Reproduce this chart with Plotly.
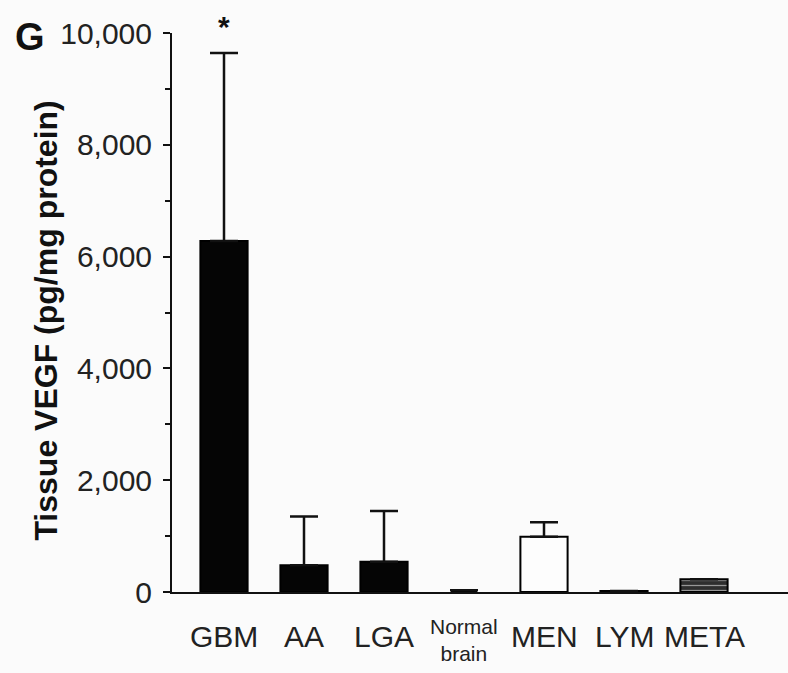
import plotly.graph_objects as go

# Tissue VEGF concentration by tumour type (mean + SD)
categories = ["GBM", "AA", "LGA", "Normal brain", "MEN", "LYM", "META"]
tick_labels = ["GBM", "AA", "LGA", "Normal<br>brain", "MEN", "LYM", "META"]
vegf_mean = [6280, 480, 540, 30, 990, 20, 230]
vegf_sd = [3360, 870, 910, 0, 260, 0, 0]
show_err = [True, True, True, False, True, False, False]
y_ticks = [0, 2000, 4000, 6000, 8000, 10000]

FONT = "Liberation Sans, Arial, sans-serif"
fills = ["#050505", "#050505", "#050505", "#050505", "#fdfdfd", "#050505", "#2e2e2e"]
widths = [0.59, 0.59, 0.59, 0.3, 0.59, 0.59, 0.59]

err_vals = [s if e else None for s, e in zip(vegf_sd, show_err)]

fig = go.Figure()
fig.add_trace(go.Bar(
    x=categories,
    y=vegf_mean,
    width=widths,
    marker=dict(
        color=fills,
        line=dict(color="#000000", width=2),
        pattern=dict(
            shape=["", "", "", "", "", "", "-"],
            fgcolor="#8a8a8a",
            bgcolor="#2e2e2e",
            size=5,
            solidity=0.25,
        ),
    ),
    error_y=dict(
        type="data",
        symmetric=False,
        array=err_vals,
        arrayminus=[0] * len(categories),
        color="#111111",
        thickness=2.5,
        width=14,
    ),
    cliponaxis=False,
))

# category labels under the axis; two-line labels get a smaller font
for cat, lab in zip(categories, tick_labels):
    two_line = "<br>" in lab
    fig.add_annotation(
        x=cat, xref="x", yref="paper", y=0,
        yshift=-48 if two_line else -44,
        text=lab, showarrow=False,
        font=dict(family=FONT, size=21 if two_line else 30, color="#222222"),
        xanchor="center", yanchor="middle",
    )

# significance marker above GBM
fig.add_annotation(
    x=categories[0], y=vegf_mean[0] + vegf_sd[0],
    yshift=27, text="<b>*</b>", showarrow=False,
    font=dict(family=FONT, size=30, color="#111111"),
    xanchor="center", yanchor="middle",
)

# panel letter
fig.add_annotation(
    xref="paper", yref="paper", x=-0.258, y=1.0, yshift=-4,
    text="<b>G</b>", showarrow=False,
    font=dict(family=FONT, size=38, color="#111111"),
    xanchor="left", yanchor="middle",
)

# y-axis title
fig.add_annotation(
    xref="paper", yref="paper", x=-0.205, y=0.485,
    text="<b>Tissue VEGF (pg/mg protein)</b>", showarrow=False,
    textangle=-90,
    font=dict(family=FONT, size=32, color="#111111"),
    xanchor="center", yanchor="middle",
)

fig.update_layout(
    width=788, height=673,
    margin=dict(l=172, r=0, t=33, b=81),
    paper_bgcolor="#fbfbfb",
    plot_bgcolor="#fbfbfb",
    showlegend=False,
    font=dict(family=FONT, color="#222222"),
)

fig.update_xaxes(
    categoryorder="array", categoryarray=categories,
    range=[-0.65, 7.05],
    showline=True, linecolor="#111111", linewidth=2,
    ticks="", showticklabels=False, showgrid=False, zeroline=False,
    automargin=False,
)

fig.update_yaxes(
    range=[0, 10000],
    tickvals=y_ticks, tickformat=",d",
    showline=True, linecolor="#111111", linewidth=2,
    ticks="outside", ticklen=7, tickwidth=2, tickcolor="#111111",
    minor=dict(dtick=1000, ticks="outside", ticklen=5, tickwidth=2, tickcolor="#111111"),
    showgrid=False, zeroline=False,
    tickfont=dict(family=FONT, size=30, color="#222222"),
    ticklabelstandoff=5,
    automargin=False,
)

fig.write_html("out.html")
